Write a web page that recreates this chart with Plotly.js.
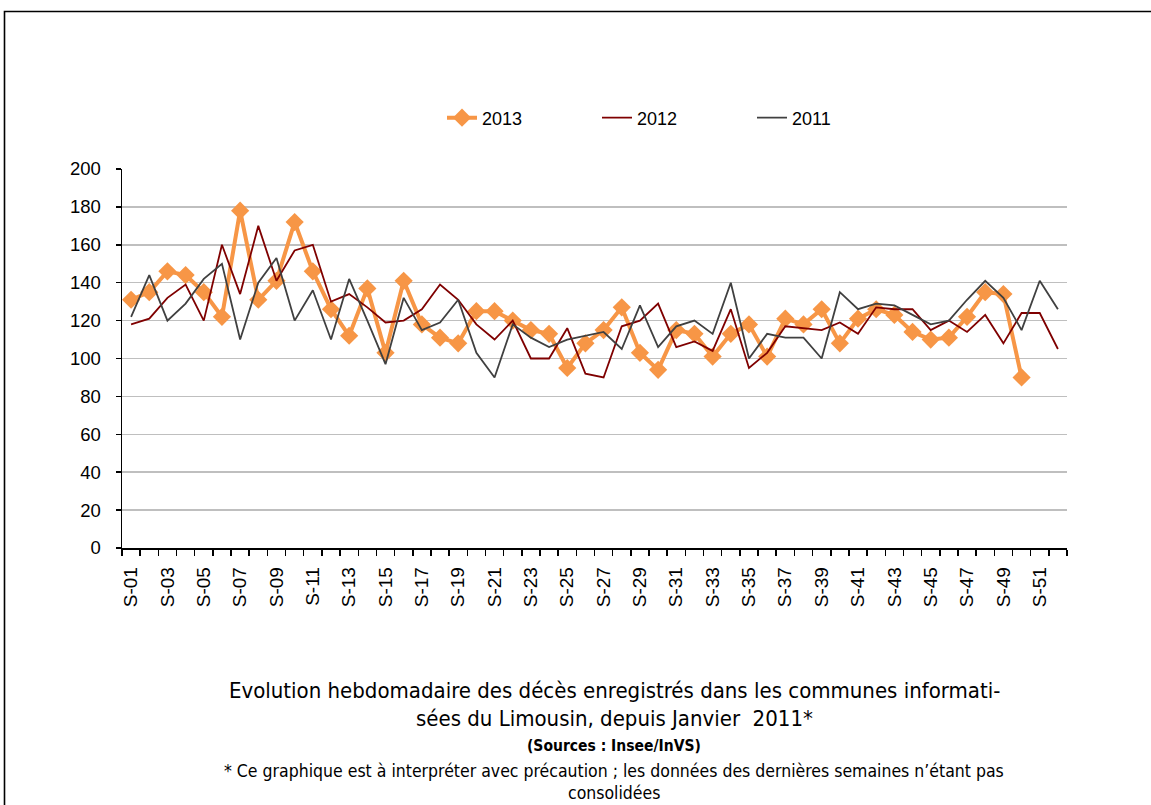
<!DOCTYPE html>
<html>
<head>
<meta charset="utf-8">
<script src="https://cdn.plot.ly/plotly-3.0.1.min.js"></script>
<style>html,body{margin:0;padding:0;background:#fff;}#chart{width:1151px;height:805px;}</style>
</head>
<body>
<div id="chart"></div>
<script>
var weeks = ["S-01","S-02","S-03","S-04","S-05","S-06","S-07","S-08","S-09","S-10",
  "S-11","S-12","S-13","S-14","S-15","S-16","S-17","S-18","S-19","S-20",
  "S-21","S-22","S-23","S-24","S-25","S-26","S-27","S-28","S-29","S-30",
  "S-31","S-32","S-33","S-34","S-35","S-36","S-37","S-38","S-39","S-40",
  "S-41","S-42","S-43","S-44","S-45","S-46","S-47","S-48","S-49","S-50",
  "S-51","S-52"];
var tickLabels = ["S-01","","S-03","","S-05","","S-07","","S-09","",
  "S-11","","S-13","","S-15","","S-17","","S-19","",
  "S-21","","S-23","","S-25","","S-27","","S-29","",
  "S-31","","S-33","","S-35","","S-37","","S-39","",
  "S-41","","S-43","","S-45","","S-47","","S-49","",
  "S-51",""];
var v2013 = [131,135,146,144,135,122,178,131,141,172,
  146,126,112,137,103,141,118,111,108,125,
  125,120,115,113,95,108,115,127,103,94,
  115,113,101,113,118,101,121,118,126,108,
  121,126,123,114,110,111,122,135,134,90];
var v2012 = [118,121,132,139,120,160,134,170,141,157,
  160,130,134,127,119,120,126,139,131,118,
  110,120,100,100,116,92,90,117,120,129,
  106,109,104,126,95,103,117,116,115,119,
  113,127,126,126,115,120,114,123,108,124,
  124,105];
var v2011 = [122,144,120,129,142,150,110,140,153,120,
  136,110,142,120,97,132,115,119,131,103,
  90,118,111,106,110,112,114,105,128,106,
  117,120,113,140,100,113,111,111,100,135,
  126,129,128,123,118,120,131,141,132,115,
  141,126];
var yTicks = [0,20,40,60,80,100,120,140,160,180,200];

var titleLines = [
  {text: "Evolution hebdomadaire des décès enregistrés dans les communes informati-", size: 22, py: 690},
  {text: "sées du Limousin, depuis Janvier  2011*", size: 22, py: 718},
  {text: "<b>(Sources : Insee/InVS)</b>", size: 15.5, py: 746},
  {text: "* Ce graphique est à interpréter avec précaution ; les données des dernières semaines n’étant pas", size: 17.5, py: 771},
  {text: "consolidées", size: 17.5, py: 793}
];

var L = 122, R = 1067, T = 169, B = 548;
function py2paper(p){ return (B - p) / (B - T); }
function px2paper(p){ return (p - L) / (R - L); }

var traces = [
  {x: weeks.slice(0, v2013.length), y: v2013, name: "2013", type: "scatter", mode: "lines+markers",
   line: {color: "#F79646", width: 4}, marker: {symbol: "diamond", size: 14, color: "#F79646"}},
  {x: weeks, y: v2012, name: "2012", type: "scatter", mode: "lines",
   line: {color: "#7F0000", width: 1.8}},
  {x: weeks, y: v2011, name: "2011", type: "scatter", mode: "lines",
   line: {color: "#404040", width: 1.8}}
];

var annotations = titleLines.map(function(l){
  return {xref: "paper", yref: "paper", x: px2paper(614), y: py2paper(l.py),
    xanchor: "center", yanchor: "middle", showarrow: false, text: l.text,
    font: {family: "Liberation Sans Narrow, DejaVu Sans Condensed, Arial", size: l.size, color: "#000"}};
});

var layout = {
  width: 1151, height: 805,
  margin: {l: L, r: 1151 - R, t: T, b: 805 - B, pad: 0},
  paper_bgcolor: "#fff", plot_bgcolor: "#fff",
  font: {family: "Liberation Sans, Arial, sans-serif", color: "#000", size: 18},
  showlegend: true,
  legend: {orientation: "h", x: px2paper(442), xanchor: "left", y: py2paper(118), yanchor: "middle",
    entrywidth: 110, entrywidthmode: "pixels", font: {size: 18, color: "#000"}, bgcolor: "rgba(0,0,0,0)"},
  xaxis: {type: "category", categoryorder: "array", categoryarray: weeks,
    range: [-0.5, weeks.length - 0.5], tickmode: "array", tickvals: weeks, ticktext: tickLabels,
    tickson: "boundaries", ticks: "outside", ticklen: 6, tickwidth: 1.5, tickcolor: "#000",
    tickangle: -90, tickfont: {size: 19, color: "#000"}, ticklabelstandoff: 10,
    showline: true, linecolor: "#000", linewidth: 1.5, showgrid: false, zeroline: false, fixedrange: true},
  yaxis: {range: [0, 200], tickmode: "array", tickvals: yTicks, ticks: "outside", ticklen: 5,
    tickwidth: 1.5, tickcolor: "#000", tickfont: {size: 18.5, color: "#000"}, ticklabelstandoff: 11,
    showline: true, linecolor: "#000", linewidth: 1.5, showgrid: true, gridcolor: "#BFBFBF",
    gridwidth: 1.5, zeroline: false, fixedrange: true},
  annotations: annotations,
  shapes: [{type: "rect", xref: "paper", yref: "paper",
    x0: px2paper(4.5), x1: px2paper(1170), y0: py2paper(830), y1: py2paper(11.5),
    line: {color: "#000", width: 1.6}, fillcolor: "rgba(0,0,0,0)", layer: "above"}]
};

Plotly.newPlot("chart", traces, layout, {displayModeBar: false, staticPlot: true});
</script>
</body>
</html>
